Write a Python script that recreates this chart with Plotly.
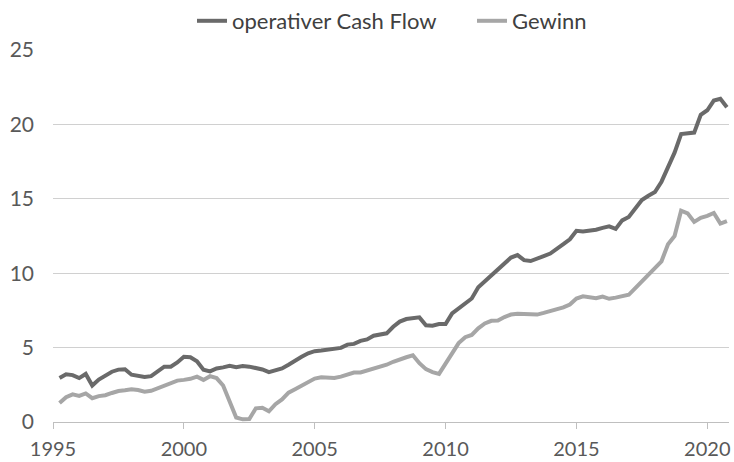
import plotly.graph_objects as go

# quarterly observations, 1995 Q1 .. 2020 Q3
start_year = 1995.25
quarter_step = 0.25

cash_flow = [
    2.95, 3.20, 3.15, 2.95, 3.23, 2.45, 2.85, 3.15, 3.38, 3.52, 3.55, 3.18,
    3.08, 3.03, 3.08, 3.40, 3.72, 3.72, 4.00, 4.38, 4.35, 4.08, 3.52, 3.40,
    3.60, 3.67, 3.77, 3.68, 3.76, 3.72, 3.63, 3.53, 3.35, 3.48, 3.60, 3.85,
    4.08, 4.38, 4.62, 4.76, 4.80, 4.86, 4.96, 4.98, 5.20, 5.25, 5.45, 5.55,
    5.80, 5.90, 5.96, 6.40, 6.75, 6.92, 7.00, 7.03, 6.50, 6.47, 6.58, 6.58,
    7.30, 7.65, 8.00, 8.30, 9.05, 9.45, 9.90, 10.30, 10.72, 11.05, 11.22, 10.88,
    10.82, 10.95, 11.15, 11.32, 11.60, 11.95, 12.28, 12.85, 12.80, 12.85, 12.92, 13.05,
    13.15, 12.98, 13.55, 13.78, 14.35, 14.92, 15.20, 15.45, 16.15, 17.05, 18.10, 19.35,
    19.42, 19.45, 20.65, 20.95, 21.60, 21.72, 21.15,
]

gewinn = [
    1.27, 1.66, 1.86, 1.75, 1.92, 1.60, 1.74, 1.80, 1.95, 2.08, 2.13, 2.20,
    2.15, 2.04, 2.10, 2.28, 2.48, 2.65, 2.78, 2.83, 2.90, 3.05, 2.83, 3.08,
    2.95, 2.45, 1.30, 0.30, 0.18, 0.20, 0.92, 0.96, 0.72, 1.20, 1.52, 1.97,
    2.20, 2.44, 2.67, 2.92, 3.00, 3.00, 2.96, 3.05, 3.22, 3.32, 3.33, 3.45,
    3.55, 3.70, 3.85, 4.05, 4.22, 4.35, 4.48, 3.95, 3.55, 3.35, 3.23, 3.90,
    4.60, 5.30, 5.70, 5.85, 6.30, 6.62, 6.80, 6.82, 7.05, 7.22, 7.27, 7.27,
    7.25, 7.22, 7.33, 7.45, 7.55, 7.70, 7.90, 8.30, 8.45, 8.38, 8.32, 8.43,
    8.28, 8.36, 8.45, 8.55, 9.00, 9.45, 9.85, 10.30, 10.80, 11.95, 12.50, 14.20,
    14.02, 13.45, 13.72, 13.85, 14.05, 13.33, 13.50,
]

x_ticks = [1995, 2000, 2005, 2010, 2015, 2020]
y_ticks = [0, 5, 10, 15, 20, 25]

years = [start_year + quarter_step * i for i in range(len(cash_flow))]

fig = go.Figure()
fig.add_trace(go.Scatter(
    x=years, y=cash_flow, mode="lines", name="operativer Cash Flow",
    line=dict(color="#6a6a6a", width=4),
))
fig.add_trace(go.Scatter(
    x=years, y=gewinn, mode="lines", name="Gewinn",
    line=dict(color="#a6a6a6", width=4),
))

font_family = "Lato, 'Open Sans', sans-serif"

fig.update_layout(
    width=734, height=462,
    margin=dict(l=53, r=5, t=50, b=40, autoexpand=False),
    paper_bgcolor="white", plot_bgcolor="white",
    font=dict(family=font_family, size=21, color="#595959"),
    showlegend=True,
    legend=dict(
        orientation="h", xref="container", yref="container",
        x=(192 / 734), y=1 - 21 / 462, xanchor="left", yanchor="middle",
        font=dict(size=22, color="#404040"),
        entrywidth=235, entrywidthmode="pixels",
        bgcolor="rgba(0,0,0,0)",
    ),
    xaxis=dict(
        range=[1995, 2020.83], tickvals=x_ticks, ticktext=[str(v) for v in x_ticks],
        showgrid=False, zeroline=False, automargin=False,
        showline=True, linecolor="#bfbfbf", linewidth=1,
        ticks="outside", ticklen=6, tickcolor="#bfbfbf", tickwidth=1,
        tickfont=dict(size=20, color="#595959"),
        ticklabelstandoff=3,
    ),
    yaxis=dict(
        range=[0, 25], tickvals=y_ticks, automargin=False,
        showgrid=True, gridcolor="#d0d0d0", gridwidth=1,
        zeroline=False, showline=False, ticks="",
        tickfont=dict(size=21, color="#595959"),
        ticklabelstandoff=18,
    ),
)

fig.write_html(
    "out.html",
    config={"displayModeBar": False},
    post_script="document.body.style.margin='0';document.body.style.overflow='hidden';",
)
